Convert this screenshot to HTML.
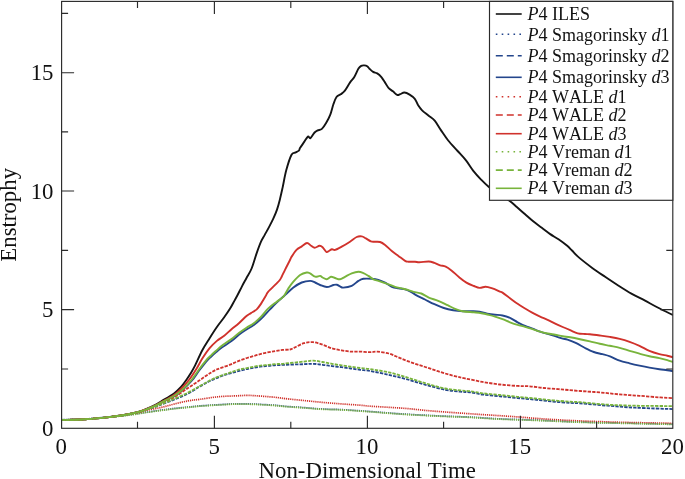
<!DOCTYPE html>
<html><head><meta charset="utf-8"><style>html,body{margin:0;padding:0;background:#fff;overflow:hidden;}svg{display:block;will-change:transform;}text{font-family:"Liberation Serif",serif;fill:#111;font-kerning:none;}</style></head><body>
<svg width="685" height="479" viewBox="0 0 685 479">
<defs><clipPath id="c"><rect x="61.6" y="1.4" width="611.2" height="426.9"/></clipPath></defs>
<g clip-path="url(#c)" fill="none" stroke-linejoin="round">
<path d="M61.60,419.90 C65.00,419.83 76.18,419.75 82.00,419.50 C87.82,419.25 91.67,418.83 96.50,418.40 C101.33,417.97 106.13,417.52 111.00,416.90 C115.87,416.28 120.82,415.62 125.70,414.70 C130.58,413.78 135.43,412.98 140.30,411.40 C145.17,409.82 151.45,406.85 154.90,405.20 C158.35,403.55 157.82,403.45 161.00,401.50 C164.18,399.55 170.67,395.92 174.00,393.50 C177.33,391.08 178.95,389.25 181.00,387.00 C183.05,384.75 184.73,382.20 186.30,380.00 C187.87,377.80 188.95,376.20 190.40,373.80 C191.85,371.40 193.02,369.53 195.00,365.60 C196.98,361.67 199.87,354.77 202.30,350.20 C204.73,345.63 207.17,342.07 209.60,338.20 C212.03,334.33 214.47,330.48 216.90,327.00 C219.33,323.52 222.00,320.37 224.20,317.30 C226.40,314.23 228.38,311.38 230.10,308.60 C231.82,305.82 233.23,302.90 234.50,300.60 C235.77,298.30 236.43,297.22 237.70,294.80 C238.97,292.38 240.63,288.90 242.10,286.10 C243.57,283.30 244.92,280.93 246.50,278.00 C248.08,275.07 249.92,272.60 251.60,268.50 C253.28,264.40 255.03,257.87 256.60,253.40 C258.17,248.93 259.67,244.75 261.00,241.70 C262.33,238.65 263.27,237.53 264.60,235.10 C265.93,232.67 267.53,229.88 269.00,227.10 C270.47,224.32 272.07,221.32 273.40,218.40 C274.73,215.48 275.92,212.77 277.00,209.60 C278.08,206.43 278.97,203.07 279.90,199.40 C280.83,195.73 281.53,192.48 282.60,187.60 C283.67,182.72 284.83,175.53 286.30,170.10 C287.77,164.67 289.93,157.92 291.40,155.00 C292.87,152.08 293.85,153.33 295.10,152.60 C296.35,151.87 298.08,151.35 298.90,150.60 C299.72,149.85 299.12,149.55 300.00,148.10 C300.88,146.65 302.88,143.82 304.20,141.90 C305.52,139.98 306.87,137.23 307.90,136.60 C308.93,135.97 309.28,138.78 310.40,138.10 C311.52,137.42 313.38,133.78 314.60,132.50 C315.82,131.22 316.48,131.00 317.70,130.40 C318.92,129.80 320.50,130.12 321.90,128.90 C323.30,127.68 324.70,125.47 326.10,123.10 C327.50,120.73 329.08,117.83 330.30,114.70 C331.52,111.57 332.37,107.25 333.40,104.30 C334.43,101.35 335.28,98.67 336.50,97.00 C337.72,95.33 339.30,95.35 340.70,94.30 C342.10,93.25 343.33,92.68 344.90,90.70 C346.47,88.72 348.53,84.67 350.10,82.40 C351.67,80.13 352.90,79.40 354.30,77.10 C355.70,74.80 357.35,70.48 358.50,68.60 C359.65,66.72 360.25,66.33 361.20,65.80 C362.15,65.27 363.20,65.33 364.20,65.40 C365.20,65.47 366.32,65.63 367.20,66.20 C368.08,66.77 368.52,67.85 369.50,68.80 C370.48,69.75 371.82,71.13 373.10,71.90 C374.38,72.67 375.82,72.53 377.20,73.40 C378.58,74.27 380.00,75.43 381.40,77.10 C382.80,78.77 384.38,81.55 385.60,83.40 C386.82,85.25 387.48,86.88 388.70,88.20 C389.92,89.52 391.50,90.18 392.90,91.30 C394.30,92.42 395.88,94.42 397.10,94.90 C398.32,95.38 398.98,94.60 400.20,94.20 C401.42,93.80 402.83,92.43 404.40,92.50 C405.97,92.57 407.87,93.55 409.60,94.60 C411.33,95.65 413.40,97.07 414.80,98.80 C416.20,100.53 416.78,103.08 418.00,105.00 C419.22,106.92 420.37,108.55 422.10,110.30 C423.83,112.05 426.30,113.77 428.40,115.50 C430.50,117.23 432.62,118.27 434.70,120.70 C436.78,123.13 438.65,126.80 440.90,130.10 C443.15,133.40 445.42,137.02 448.20,140.50 C450.98,143.98 454.63,147.68 457.60,151.00 C460.57,154.32 463.38,157.10 466.00,160.40 C468.62,163.70 470.75,167.57 473.30,170.80 C475.85,174.03 478.75,177.15 481.30,179.80 C483.85,182.45 485.65,184.33 488.60,186.70 C491.55,189.07 495.53,191.67 499.00,194.00 C502.47,196.33 506.43,198.53 509.40,200.70 C512.37,202.87 514.18,204.73 516.80,207.00 C519.42,209.27 522.32,211.87 525.10,214.30 C527.88,216.73 530.72,219.35 533.50,221.60 C536.28,223.85 539.02,225.72 541.80,227.80 C544.58,229.88 547.42,232.18 550.20,234.10 C552.98,236.02 555.72,237.38 558.50,239.30 C561.28,241.22 564.65,243.73 566.90,245.60 C569.15,247.47 570.02,248.53 572.00,250.50 C573.98,252.47 575.48,254.54 578.80,257.40 C582.12,260.26 587.52,264.42 591.90,267.65 C596.28,270.88 600.72,273.83 605.10,276.80 C609.48,279.77 613.82,282.70 618.20,285.50 C622.58,288.30 627.00,291.12 631.40,293.60 C635.80,296.08 640.22,298.08 644.60,300.40 C648.98,302.72 652.97,305.05 657.70,307.50 C662.43,309.95 670.45,313.83 673.00,315.10" stroke="#141414" stroke-width="1.90"/>
<path d="M61.60,419.60 C65.00,419.53 76.18,419.45 82.00,419.20 C87.82,418.95 91.67,418.53 96.50,418.10 C101.33,417.67 106.13,417.07 111.00,416.60 C115.87,416.13 120.82,415.87 125.70,415.30 C130.58,414.73 136.75,413.73 140.30,413.20 C143.85,412.67 143.55,412.60 147.00,412.10 C150.45,411.60 156.50,410.80 161.00,410.20 C165.50,409.60 169.50,409.02 174.00,408.50 C178.50,407.98 183.67,407.53 188.00,407.10 C192.33,406.67 194.87,406.30 200.00,405.90 C205.13,405.50 212.53,405.05 218.80,404.70 C225.07,404.35 231.33,403.88 237.60,403.80 C243.87,403.72 250.13,403.95 256.40,404.20 C262.67,404.45 270.43,404.95 275.20,405.30 C279.97,405.65 280.23,405.92 285.00,406.30 C289.77,406.68 297.53,407.14 303.80,407.60 C310.07,408.06 316.33,408.71 322.60,409.04 C328.87,409.37 333.50,409.19 341.40,409.60 C349.30,410.01 362.10,410.93 370.00,411.50 C377.90,412.07 382.53,412.53 388.80,413.00 C395.07,413.47 401.33,413.92 407.60,414.30 C413.87,414.68 420.13,414.98 426.40,415.30 C432.67,415.62 437.93,415.90 445.20,416.20 C452.47,416.50 460.87,416.65 470.00,417.10 C479.13,417.55 489.17,418.40 500.00,418.90 C510.83,419.40 521.67,419.58 535.00,420.10 C548.33,420.62 565.57,421.52 580.00,422.00 C594.43,422.48 606.10,422.65 621.60,423.00 C637.10,423.35 664.43,423.92 673.00,424.10" stroke="#24468c" stroke-width="1.70" stroke-dasharray="1.2 0.9"/>
<path d="M61.60,419.90 C65.00,419.83 76.18,419.75 82.00,419.50 C87.82,419.25 91.67,418.83 96.50,418.40 C101.33,417.97 106.13,417.52 111.00,416.90 C115.87,416.28 120.82,415.62 125.70,414.70 C130.58,413.78 135.43,412.68 140.30,411.40 C145.17,410.12 151.45,408.13 154.90,407.00 C158.35,405.87 157.82,405.83 161.00,404.60 C164.18,403.37 169.50,401.45 174.00,399.60 C178.50,397.75 183.67,395.70 188.00,393.50 C192.33,391.30 196.33,388.48 200.00,386.40 C203.67,384.32 206.37,382.73 210.00,381.00 C213.63,379.27 218.47,377.25 221.80,376.00 C225.13,374.75 225.80,374.67 230.00,373.50 C234.20,372.33 241.03,370.25 247.00,369.00 C252.97,367.75 259.47,366.70 265.80,366.00 C272.13,365.30 278.67,365.10 285.00,364.80 C291.33,364.50 299.10,364.37 303.80,364.20 C308.50,364.03 310.07,363.70 313.20,363.80 C316.33,363.90 319.47,364.42 322.60,364.80 C325.73,365.18 328.87,365.70 332.00,366.10 C335.13,366.50 338.27,366.80 341.40,367.20 C344.53,367.60 347.67,368.07 350.80,368.50 C353.93,368.93 357.00,369.38 360.20,369.80 C363.40,370.22 365.23,370.17 370.00,371.00 C374.77,371.83 382.53,373.38 388.80,374.80 C395.07,376.22 401.33,377.78 407.60,379.50 C413.87,381.22 420.13,383.38 426.40,385.10 C432.67,386.82 439.57,388.70 445.20,389.80 C450.83,390.90 456.07,391.28 460.20,391.70 C464.33,392.12 466.28,391.83 470.00,392.30 C473.72,392.77 477.50,393.83 482.50,394.50 C487.50,395.17 494.17,395.72 500.00,396.30 C505.83,396.88 511.67,397.43 517.50,398.00 C523.33,398.57 529.15,399.12 535.00,399.70 C540.85,400.28 546.75,400.97 552.60,401.50 C558.45,402.03 565.53,402.60 570.10,402.90 C574.67,403.20 573.73,402.83 580.00,403.30 C586.27,403.77 598.45,404.97 607.70,405.70 C616.95,406.43 624.62,407.13 635.50,407.70 C646.38,408.27 666.75,408.87 673.00,409.10" stroke="#24468c" stroke-width="1.80" stroke-dasharray="3.3 1.2"/>
<path d="M61.60,419.90 C65.00,419.83 76.18,419.75 82.00,419.50 C87.82,419.25 91.67,418.83 96.50,418.40 C101.33,417.97 106.13,417.52 111.00,416.90 C115.87,416.28 120.82,415.62 125.70,414.70 C130.58,413.78 135.43,412.88 140.30,411.40 C145.17,409.92 151.45,407.25 154.90,405.80 C158.35,404.35 157.82,404.25 161.00,402.70 C164.18,401.15 170.50,398.53 174.00,396.50 C177.50,394.47 179.00,393.17 182.00,390.50 C185.00,387.83 189.17,383.78 192.00,380.50 C194.83,377.22 196.67,373.92 199.00,370.80 C201.33,367.68 203.95,364.18 206.00,361.80 C208.05,359.42 209.55,358.17 211.30,356.50 C213.05,354.83 214.75,353.28 216.50,351.80 C218.25,350.32 219.30,349.40 221.80,347.60 C224.30,345.80 228.60,343.18 231.50,341.00 C234.40,338.82 236.70,336.42 239.20,334.50 C241.70,332.58 244.07,331.08 246.50,329.50 C248.93,327.92 251.37,326.78 253.80,325.00 C256.23,323.22 258.40,321.40 261.10,318.80 C263.80,316.20 267.40,312.10 270.00,309.40 C272.60,306.70 274.20,304.98 276.70,302.60 C279.20,300.22 282.22,297.62 285.00,295.10 C287.78,292.58 290.62,289.60 293.40,287.50 C296.18,285.40 298.92,283.60 301.70,282.50 C304.48,281.40 307.87,280.90 310.10,280.90 C312.33,280.90 313.43,281.82 315.10,282.50 C316.77,283.18 318.15,284.25 320.10,285.00 C322.05,285.75 324.57,287.00 326.80,287.00 C329.03,287.00 331.83,285.38 333.50,285.00 C335.17,284.62 335.72,284.47 336.80,284.70 C337.88,284.93 338.92,285.92 340.00,286.40 C341.08,286.88 341.35,287.68 343.30,287.60 C345.25,287.52 349.18,287.02 351.70,285.90 C354.22,284.78 356.45,282.08 358.40,280.90 C360.35,279.72 361.18,279.15 363.40,278.80 C365.62,278.45 369.20,278.63 371.70,278.80 C374.20,278.97 376.17,279.17 378.40,279.80 C380.63,280.43 382.87,281.43 385.10,282.60 C387.33,283.77 389.58,285.83 391.80,286.80 C394.02,287.77 396.18,287.98 398.40,288.40 C400.62,288.82 403.17,288.82 405.10,289.30 C407.03,289.78 408.25,290.38 410.00,291.30 C411.75,292.22 413.10,293.43 415.60,294.80 C418.10,296.17 421.87,297.93 425.00,299.50 C428.13,301.07 431.27,302.78 434.40,304.20 C437.53,305.62 440.67,307.00 443.80,308.00 C446.93,309.00 450.07,309.67 453.20,310.20 C456.33,310.73 459.47,311.03 462.60,311.20 C465.73,311.37 469.18,311.12 472.00,311.20 C474.82,311.28 476.68,311.23 479.50,311.70 C482.32,312.17 486.32,313.50 488.90,314.00 C491.48,314.50 492.73,314.45 495.00,314.70 C497.27,314.95 500.00,314.97 502.50,315.50 C505.00,316.03 507.48,316.77 510.00,317.90 C512.52,319.03 515.08,320.95 517.60,322.30 C520.12,323.65 522.60,324.95 525.10,326.00 C527.60,327.05 530.10,327.65 532.60,328.60 C535.10,329.55 537.60,330.82 540.10,331.70 C542.60,332.58 545.08,333.15 547.60,333.90 C550.12,334.65 552.68,335.42 555.20,336.20 C557.72,336.98 560.65,338.02 562.70,338.60 C564.75,339.18 565.23,338.93 567.50,339.70 C569.77,340.47 573.38,341.82 576.30,343.20 C579.22,344.58 582.08,346.53 585.00,348.00 C587.92,349.47 590.88,350.97 593.80,352.00 C596.72,353.03 599.80,353.47 602.50,354.20 C605.20,354.93 607.13,355.32 610.00,356.40 C612.87,357.48 616.43,359.55 619.70,360.70 C622.97,361.85 626.30,362.48 629.60,363.30 C632.90,364.12 636.20,364.88 639.50,365.60 C642.80,366.32 646.08,367.00 649.40,367.60 C652.72,368.20 656.42,368.77 659.40,369.20 C662.38,369.63 665.03,369.87 667.30,370.20 C669.57,370.53 672.05,371.03 673.00,371.20" stroke="#24468c" stroke-width="1.90"/>
<path d="M61.60,419.90 C65.00,419.83 76.18,419.75 82.00,419.50 C87.82,419.25 91.67,418.83 96.50,418.40 C101.33,417.97 106.13,417.52 111.00,416.90 C115.87,416.28 120.82,415.45 125.70,414.70 C130.58,413.95 136.75,413.15 140.30,412.40 C143.85,411.65 143.55,411.02 147.00,410.20 C150.45,409.38 156.50,408.52 161.00,407.50 C165.50,406.48 169.50,405.20 174.00,404.10 C178.50,403.00 183.67,401.70 188.00,400.90 C192.33,400.10 194.87,400.00 200.00,399.30 C205.13,398.60 212.53,397.28 218.80,396.70 C225.07,396.12 232.90,396.02 237.60,395.80 C242.30,395.58 243.87,395.40 247.00,395.40 C250.13,395.40 251.70,395.48 256.40,395.80 C261.10,396.12 270.43,396.83 275.20,397.30 C279.97,397.77 280.23,398.07 285.00,398.60 C289.77,399.13 297.53,399.87 303.80,400.50 C310.07,401.13 316.33,401.83 322.60,402.40 C328.87,402.97 335.13,403.43 341.40,403.90 C347.67,404.37 355.43,404.82 360.20,405.20 C364.97,405.58 365.23,405.85 370.00,406.20 C374.77,406.55 382.53,406.90 388.80,407.30 C395.07,407.70 401.33,408.07 407.60,408.60 C413.87,409.13 420.13,409.93 426.40,410.50 C432.67,411.07 438.77,411.52 445.20,412.00 C451.63,412.48 458.78,412.97 465.00,413.40 C471.22,413.83 476.67,414.22 482.50,414.60 C488.33,414.98 494.17,415.32 500.00,415.70 C505.83,416.08 511.67,416.47 517.50,416.90 C523.33,417.33 529.15,417.87 535.00,418.30 C540.85,418.73 545.10,419.07 552.60,419.50 C560.10,419.93 568.50,420.43 580.00,420.90 C591.50,421.37 606.10,421.90 621.60,422.30 C637.10,422.70 664.43,423.13 673.00,423.30" stroke="#d0322c" stroke-width="1.70" stroke-dasharray="1.2 0.9"/>
<path d="M61.60,419.90 C65.00,419.83 76.18,419.75 82.00,419.50 C87.82,419.25 91.67,418.83 96.50,418.40 C101.33,417.97 106.13,417.52 111.00,416.90 C115.87,416.28 120.82,415.62 125.70,414.70 C130.58,413.78 135.43,412.82 140.30,411.40 C145.17,409.98 151.45,407.52 154.90,406.20 C158.35,404.88 157.82,404.98 161.00,403.50 C164.18,402.02 169.50,399.88 174.00,397.30 C178.50,394.72 183.87,390.74 188.00,388.00 C192.13,385.26 195.78,382.89 198.80,380.84 C201.82,378.79 204.02,377.11 206.10,375.70 C208.18,374.29 209.57,373.43 211.30,372.40 C213.03,371.37 214.75,370.28 216.50,369.50 C218.25,368.72 219.55,368.50 221.80,367.70 C224.05,366.90 227.37,365.75 230.00,364.70 C232.63,363.65 234.77,362.52 237.60,361.40 C240.43,360.28 243.87,359.03 247.00,358.00 C250.13,356.97 253.27,356.07 256.40,355.20 C259.53,354.33 262.67,353.48 265.80,352.80 C268.93,352.12 272.38,351.58 275.20,351.10 C278.02,350.62 280.23,350.17 282.70,349.90 C285.17,349.63 288.05,349.87 290.00,349.50 C291.95,349.13 292.10,348.74 294.40,347.69 C296.70,346.64 300.67,344.12 303.80,343.20 C306.93,342.28 310.07,341.95 313.20,342.20 C316.33,342.45 319.47,343.67 322.60,344.70 C325.73,345.73 328.87,347.47 332.00,348.40 C335.13,349.33 338.27,349.77 341.40,350.30 C344.53,350.83 347.67,351.38 350.80,351.60 C353.93,351.82 357.00,351.50 360.20,351.60 C363.40,351.70 367.12,352.18 370.00,352.20 C372.88,352.22 374.37,351.48 377.50,351.70 C380.63,351.92 385.35,352.57 388.80,353.50 C392.25,354.43 395.07,356.03 398.20,357.30 C401.33,358.57 404.47,359.92 407.60,361.10 C410.73,362.28 413.87,363.37 417.00,364.40 C420.13,365.43 423.27,366.28 426.40,367.30 C429.53,368.32 432.67,369.47 435.80,370.50 C438.93,371.53 442.07,372.57 445.20,373.50 C448.33,374.43 451.30,375.28 454.60,376.10 C457.90,376.92 460.35,377.43 465.00,378.40 C469.65,379.37 476.67,380.88 482.50,381.90 C488.33,382.92 494.17,383.83 500.00,384.50 C505.83,385.17 512.53,385.60 517.50,385.90 C522.47,386.20 525.42,385.95 529.80,386.30 C534.18,386.65 538.55,387.48 543.80,388.00 C549.05,388.52 555.27,388.90 561.30,389.40 C567.33,389.90 573.58,390.50 580.00,391.00 C586.42,391.50 593.18,391.83 599.80,392.40 C606.42,392.97 613.08,393.83 619.70,394.40 C626.32,394.97 632.88,395.30 639.50,395.80 C646.12,396.30 653.82,397.00 659.40,397.40 C664.98,397.80 670.73,398.07 673.00,398.20" stroke="#d0322c" stroke-width="1.80" stroke-dasharray="3.3 1.2"/>
<path d="M61.60,419.90 C65.00,419.83 76.18,419.75 82.00,419.50 C87.82,419.25 91.67,418.83 96.50,418.40 C101.33,417.97 106.13,417.52 111.00,416.90 C115.87,416.28 120.82,415.62 125.70,414.70 C130.58,413.78 135.43,412.92 140.30,411.40 C145.17,409.88 151.45,407.12 154.90,405.60 C158.35,404.08 157.82,404.07 161.00,402.30 C164.18,400.53 170.67,397.22 174.00,395.00 C177.33,392.78 178.52,391.50 181.00,389.00 C183.48,386.50 186.32,383.38 188.90,380.00 C191.48,376.62 194.27,372.28 196.50,368.70 C198.73,365.12 200.12,361.92 202.30,358.50 C204.48,355.08 207.17,351.13 209.60,348.20 C212.03,345.27 214.47,342.97 216.90,340.90 C219.33,338.83 221.77,337.75 224.20,335.80 C226.63,333.85 229.05,331.30 231.50,329.20 C233.95,327.10 236.40,325.40 238.90,323.20 C241.40,321.00 244.50,317.68 246.50,316.00 C248.50,314.32 249.20,314.20 250.90,313.10 C252.60,312.00 255.00,310.98 256.70,309.40 C258.40,307.82 259.63,305.78 261.10,303.60 C262.57,301.42 264.30,298.28 265.50,296.30 C266.70,294.32 266.43,293.85 268.30,291.70 C270.17,289.55 274.78,285.35 276.70,283.40 C278.62,281.45 278.97,281.12 279.80,280.00 C280.63,278.88 280.83,278.40 281.70,276.70 C282.57,275.00 283.62,272.58 285.00,269.80 C286.38,267.02 288.95,262.10 290.00,260.00 C291.05,257.90 290.22,258.88 291.30,257.20 C292.38,255.52 294.75,251.70 296.50,249.90 C298.25,248.10 300.05,247.55 301.80,246.40 C303.55,245.25 305.45,243.10 307.00,243.00 C308.55,242.90 309.82,245.00 311.10,245.80 C312.38,246.60 313.30,247.80 314.70,247.80 C316.10,247.80 318.18,245.90 319.50,245.80 C320.82,245.70 321.45,246.17 322.60,247.20 C323.75,248.23 325.35,251.37 326.40,252.00 C327.45,252.63 327.97,251.45 328.90,251.00 C329.83,250.55 330.95,249.48 332.00,249.30 C333.05,249.12 333.58,250.33 335.20,249.90 C336.82,249.47 339.23,248.07 341.70,246.70 C344.17,245.33 347.50,243.32 350.00,241.70 C352.50,240.08 354.75,237.88 356.70,237.00 C358.65,236.12 360.17,236.17 361.70,236.40 C363.23,236.63 364.37,237.57 365.90,238.40 C367.43,239.23 369.37,240.85 370.90,241.40 C372.43,241.95 373.57,241.60 375.10,241.70 C376.63,241.80 378.43,241.45 380.10,242.00 C381.77,242.55 383.15,243.52 385.10,245.00 C387.05,246.48 389.58,249.08 391.80,250.90 C394.02,252.72 396.18,254.23 398.40,255.90 C400.62,257.57 403.42,259.93 405.10,260.90 C406.78,261.87 406.85,261.57 408.50,261.70 C410.15,261.83 413.18,261.60 415.00,261.70 C416.82,261.80 417.10,262.33 419.40,262.30 C421.70,262.27 426.30,261.40 428.80,261.50 C431.30,261.60 432.52,262.27 434.40,262.90 C436.28,263.53 438.22,264.68 440.10,265.30 C441.98,265.92 443.82,265.75 445.70,266.60 C447.58,267.45 449.20,268.67 451.40,270.40 C453.60,272.13 456.40,274.97 458.90,277.00 C461.40,279.03 463.90,281.10 466.40,282.60 C468.90,284.10 471.72,285.12 473.90,286.00 C476.08,286.88 477.62,287.78 479.50,287.90 C481.38,288.02 483.63,286.80 485.20,286.70 C486.77,286.60 487.33,286.88 488.90,287.30 C490.47,287.72 492.75,288.48 494.60,289.20 C496.45,289.92 498.68,291.03 500.00,291.60 C501.32,292.17 500.83,291.50 502.50,292.60 C504.17,293.70 507.48,296.33 510.00,298.20 C512.52,300.07 515.08,302.08 517.60,303.80 C520.12,305.52 522.60,306.98 525.10,308.50 C527.60,310.02 530.10,311.55 532.60,312.90 C535.10,314.25 537.60,315.45 540.10,316.60 C542.60,317.75 545.08,318.63 547.60,319.80 C550.12,320.97 552.68,322.40 555.20,323.60 C557.72,324.80 560.20,325.90 562.70,327.00 C565.20,328.10 567.70,329.15 570.20,330.20 C572.70,331.25 575.23,332.67 577.70,333.30 C580.17,333.93 582.97,333.83 585.00,334.00 C587.03,334.17 587.43,334.05 589.90,334.30 C592.37,334.55 596.48,335.07 599.80,335.50 C603.12,335.93 606.48,336.35 609.80,336.90 C613.12,337.45 616.40,337.98 619.70,338.80 C623.00,339.62 626.30,340.63 629.60,341.80 C632.90,342.97 636.20,344.30 639.50,345.80 C642.80,347.30 646.08,349.42 649.40,350.80 C652.72,352.18 656.42,353.28 659.40,354.10 C662.38,354.92 665.03,355.17 667.30,355.70 C669.57,356.23 672.05,357.03 673.00,357.30" stroke="#d0322c" stroke-width="1.90"/>
<path d="M61.60,419.90 C65.00,419.83 76.18,419.75 82.00,419.50 C87.82,419.25 91.67,418.83 96.50,418.40 C101.33,417.97 106.13,417.37 111.00,416.90 C115.87,416.43 120.82,416.17 125.70,415.60 C130.58,415.03 136.75,414.03 140.30,413.50 C143.85,412.97 143.55,412.90 147.00,412.40 C150.45,411.90 156.50,411.10 161.00,410.50 C165.50,409.90 169.50,409.32 174.00,408.80 C178.50,408.28 183.67,407.83 188.00,407.40 C192.33,406.97 194.87,406.60 200.00,406.20 C205.13,405.80 212.53,405.35 218.80,405.00 C225.07,404.65 231.33,404.18 237.60,404.10 C243.87,404.02 250.13,404.25 256.40,404.50 C262.67,404.75 270.43,405.25 275.20,405.60 C279.97,405.95 280.23,406.22 285.00,406.60 C289.77,406.98 297.53,407.44 303.80,407.90 C310.07,408.36 316.33,409.01 322.60,409.34 C328.87,409.67 333.50,409.49 341.40,409.90 C349.30,410.31 362.10,411.23 370.00,411.80 C377.90,412.37 382.53,412.83 388.80,413.30 C395.07,413.77 401.33,414.22 407.60,414.60 C413.87,414.98 420.13,415.28 426.40,415.60 C432.67,415.92 437.93,416.20 445.20,416.50 C452.47,416.80 460.87,416.95 470.00,417.40 C479.13,417.85 489.17,418.70 500.00,419.20 C510.83,419.70 521.67,419.88 535.00,420.40 C548.33,420.92 565.57,421.82 580.00,422.30 C594.43,422.78 606.10,422.95 621.60,423.30 C637.10,423.65 664.43,424.22 673.00,424.40" stroke="#78b43c" stroke-width="1.70" stroke-dasharray="1.2 0.9"/>
<path d="M61.60,419.90 C65.00,419.83 76.18,419.75 82.00,419.50 C87.82,419.25 91.67,418.83 96.50,418.40 C101.33,417.97 106.13,417.52 111.00,416.90 C115.87,416.28 120.82,415.62 125.70,414.70 C130.58,413.78 135.43,412.72 140.30,411.40 C145.17,410.08 151.45,407.98 154.90,406.80 C158.35,405.62 157.82,405.60 161.00,404.30 C164.18,403.00 169.50,400.95 174.00,399.00 C178.50,397.05 183.67,394.76 188.00,392.60 C192.33,390.44 196.43,388.05 200.00,386.06 C203.57,384.08 206.65,382.14 209.40,380.70 C212.15,379.26 214.43,378.30 216.50,377.40 C218.57,376.50 219.55,376.08 221.80,375.30 C224.05,374.52 227.37,373.58 230.00,372.70 C232.63,371.82 234.77,370.77 237.60,370.00 C240.43,369.23 243.87,368.73 247.00,368.10 C250.13,367.47 253.27,366.70 256.40,366.20 C259.53,365.70 262.67,365.43 265.80,365.10 C268.93,364.77 272.00,364.47 275.20,364.20 C278.40,363.93 280.23,363.93 285.00,363.50 C289.77,363.07 299.10,362.08 303.80,361.60 C308.50,361.12 310.07,360.53 313.20,360.60 C316.33,360.67 319.47,361.47 322.60,362.00 C325.73,362.53 328.87,363.25 332.00,363.80 C335.13,364.35 338.27,364.82 341.40,365.30 C344.53,365.78 347.67,366.25 350.80,366.70 C353.93,367.15 357.00,367.60 360.20,368.00 C363.40,368.40 365.23,368.38 370.00,369.10 C374.77,369.82 382.53,370.88 388.80,372.30 C395.07,373.72 401.33,375.72 407.60,377.60 C413.87,379.48 420.13,381.78 426.40,383.60 C432.67,385.42 439.57,387.37 445.20,388.50 C450.83,389.63 456.07,389.95 460.20,390.40 C464.33,390.85 466.28,390.72 470.00,391.20 C473.72,391.68 477.50,392.67 482.50,393.30 C487.50,393.93 494.17,394.42 500.00,395.00 C505.83,395.58 511.67,396.22 517.50,396.80 C523.33,397.38 529.15,397.92 535.00,398.50 C540.85,399.08 546.75,399.77 552.60,400.30 C558.45,400.83 565.53,401.38 570.10,401.70 C574.67,402.02 573.73,401.70 580.00,402.20 C586.27,402.70 598.45,404.12 607.70,404.70 C616.95,405.28 624.62,405.47 635.50,405.70 C646.38,405.93 666.75,406.03 673.00,406.10" stroke="#78b43c" stroke-width="1.80" stroke-dasharray="3.3 1.2"/>
<path d="M61.60,419.90 C65.00,419.83 76.18,419.75 82.00,419.50 C87.82,419.25 91.67,418.83 96.50,418.40 C101.33,417.97 106.13,417.52 111.00,416.90 C115.87,416.28 120.82,415.62 125.70,414.70 C130.58,413.78 135.43,412.88 140.30,411.40 C145.17,409.92 151.45,407.27 154.90,405.80 C158.35,404.33 157.82,404.23 161.00,402.60 C164.18,400.97 170.50,398.10 174.00,396.00 C177.50,393.90 179.08,392.67 182.00,390.00 C184.92,387.33 188.70,383.38 191.50,380.00 C194.30,376.62 196.37,372.98 198.80,369.70 C201.23,366.42 204.02,362.73 206.10,360.30 C208.18,357.87 209.57,356.75 211.30,355.10 C213.03,353.45 214.75,351.95 216.50,350.40 C218.25,348.85 219.30,347.72 221.80,345.80 C224.30,343.88 228.60,341.07 231.50,338.90 C234.40,336.73 236.70,334.67 239.20,332.80 C241.70,330.93 244.07,329.28 246.50,327.70 C248.93,326.12 251.37,325.13 253.80,323.30 C256.23,321.47 258.68,319.18 261.10,316.70 C263.52,314.22 265.70,310.90 268.30,308.40 C270.90,305.90 274.18,303.65 276.70,301.70 C279.22,299.75 281.45,298.92 283.40,296.70 C285.35,294.48 286.73,290.90 288.40,288.40 C290.07,285.90 291.45,283.93 293.40,281.70 C295.35,279.47 297.88,276.53 300.10,275.00 C302.32,273.47 305.03,272.77 306.70,272.50 C308.37,272.23 308.70,272.70 310.10,273.40 C311.50,274.10 313.43,276.28 315.10,276.70 C316.77,277.12 318.85,275.77 320.10,275.90 C321.35,276.03 321.48,276.95 322.60,277.50 C323.72,278.05 325.40,279.33 326.80,279.20 C328.20,279.07 329.62,276.90 331.00,276.70 C332.38,276.50 333.60,277.57 335.10,278.00 C336.60,278.43 338.35,279.50 340.00,279.30 C341.65,279.10 343.05,277.78 345.00,276.80 C346.95,275.82 349.47,274.23 351.70,273.40 C353.93,272.57 356.45,271.85 358.40,271.80 C360.35,271.75 361.73,272.42 363.40,273.10 C365.07,273.78 366.73,274.87 368.40,275.90 C370.07,276.93 371.73,278.47 373.40,279.30 C375.07,280.13 376.73,280.35 378.40,280.90 C380.07,281.45 381.73,282.03 383.40,282.60 C385.07,283.17 386.45,283.60 388.40,284.30 C390.35,285.00 392.87,286.12 395.10,286.80 C397.33,287.48 399.57,287.85 401.80,288.40 C404.03,288.95 406.30,289.48 408.50,290.10 C410.70,290.72 412.87,291.53 415.00,292.10 C417.13,292.67 419.00,292.58 421.30,293.50 C423.60,294.42 425.98,296.38 428.80,297.60 C431.62,298.82 435.07,299.53 438.20,300.80 C441.33,302.07 444.78,303.85 447.60,305.20 C450.42,306.55 452.60,307.90 455.10,308.90 C457.60,309.90 459.47,310.63 462.60,311.20 C465.73,311.77 470.77,311.97 473.90,312.30 C477.03,312.63 478.90,312.77 481.40,313.20 C483.90,313.63 486.63,314.33 488.90,314.90 C491.17,315.47 492.73,315.88 495.00,316.60 C497.27,317.32 500.00,318.25 502.50,319.20 C505.00,320.15 507.48,321.35 510.00,322.30 C512.52,323.25 515.08,324.15 517.60,324.90 C520.12,325.65 522.60,326.08 525.10,326.80 C527.60,327.52 530.10,328.38 532.60,329.20 C535.10,330.02 537.60,330.98 540.10,331.70 C542.60,332.42 545.08,332.98 547.60,333.50 C550.12,334.02 552.68,334.35 555.20,334.80 C557.72,335.25 560.20,335.78 562.70,336.20 C565.20,336.62 567.32,336.80 570.20,337.30 C573.08,337.80 576.72,338.52 580.00,339.20 C583.28,339.88 586.60,340.63 589.90,341.40 C593.20,342.17 596.48,343.07 599.80,343.80 C603.12,344.53 606.48,345.13 609.80,345.80 C613.12,346.47 616.40,346.97 619.70,347.80 C623.00,348.63 626.30,349.82 629.60,350.80 C632.90,351.78 636.20,352.78 639.50,353.70 C642.80,354.62 646.08,355.57 649.40,356.30 C652.72,357.03 656.42,357.47 659.40,358.10 C662.38,358.73 665.03,359.43 667.30,360.10 C669.57,360.77 672.05,361.77 673.00,362.10" stroke="#78b43c" stroke-width="1.90"/>
</g>
<rect x="61.6" y="1.4" width="611.2" height="426.9" fill="none" stroke="#2a2a2a" stroke-width="1.15"/>
<path d="M137.50,428.30 V421.80 M137.50,1.40 V7.90 M214.40,428.30 V415.80 M214.40,1.40 V13.90 M290.80,428.30 V421.80 M290.80,1.40 V7.90 M367.40,428.30 V415.80 M367.40,1.40 V13.90 M443.60,428.30 V421.80 M443.60,1.40 V7.90 M520.40,428.30 V415.80 M520.40,1.40 V13.90 M596.60,428.30 V421.80 M596.60,1.40 V7.90 M61.60,369.00 H68.10 M672.80,369.00 H666.30 M61.60,309.60 H74.10 M672.80,309.60 H660.30 M61.60,250.30 H68.10 M672.80,250.30 H666.30 M61.60,191.00 H74.10 M672.80,191.00 H660.30 M61.60,131.80 H68.10 M672.80,131.80 H666.30 M61.60,72.70 H74.10 M672.80,72.70 H660.30 M61.60,13.30 H68.10 M672.80,13.30 H666.30" stroke="#2a2a2a" stroke-width="1.15" fill="none"/>
<rect x="489.5" y="1.4" width="183.3" height="198.9" fill="#fff" stroke="#2a2a2a" stroke-width="1.15"/>
<text x="61.30" y="453.6" font-size="22.8" text-anchor="middle">0</text>
<text x="214.10" y="453.6" font-size="22.8" text-anchor="middle">5</text>
<text x="366.90" y="453.6" font-size="22.8" text-anchor="middle">10</text>
<text x="519.70" y="453.6" font-size="22.8" text-anchor="middle">15</text>
<text x="672.50" y="453.6" font-size="22.8" text-anchor="middle">20</text>
<text x="53.5" y="436.00" font-size="22.8" text-anchor="end">0</text>
<text x="53.5" y="317.42" font-size="22.8" text-anchor="end">5</text>
<text x="53.5" y="198.83" font-size="22.8" text-anchor="end">10</text>
<text x="53.5" y="80.25" font-size="22.8" text-anchor="end">15</text>
<text x="367.2" y="477.8" font-size="22.8" text-anchor="middle">Non-Dimensional Time</text>
<text transform="translate(16.4,214.8) rotate(-90)" font-size="22.8" text-anchor="middle">Enstrophy</text>
<path d="M495.8,14.0 H521.7" stroke="#141414" stroke-width="1.6"/>
<text x="527.6" y="20.3" font-size="18.0"><tspan font-style="italic">P</tspan>4 ILES</text>
<path d="M495.8,34.2 H521.7" stroke="#24468c" stroke-width="1.6" stroke-dasharray="1.6 4.3"/>
<text x="527.6" y="40.7" font-size="18.0"><tspan font-style="italic">P</tspan>4 Smagorinsky <tspan font-style="italic">d</tspan>1</text>
<path d="M495.8,55.7 H521.7" stroke="#24468c" stroke-width="1.6" stroke-dasharray="7 4"/>
<text x="527.6" y="62.2" font-size="18.0"><tspan font-style="italic">P</tspan>4 Smagorinsky <tspan font-style="italic">d</tspan>2</text>
<path d="M495.8,77.3 H521.7" stroke="#24468c" stroke-width="1.6"/>
<text x="527.6" y="83.1" font-size="18.0"><tspan font-style="italic">P</tspan>4 Smagorinsky <tspan font-style="italic">d</tspan>3</text>
<path d="M495.8,96.8 H521.7" stroke="#d0322c" stroke-width="1.6" stroke-dasharray="1.6 4.3"/>
<text x="527.6" y="103.0" font-size="18.0"><tspan font-style="italic">P</tspan>4 WALE <tspan font-style="italic">d</tspan>1</text>
<path d="M495.8,115.0 H521.7" stroke="#d0322c" stroke-width="1.6" stroke-dasharray="7 4"/>
<text x="527.6" y="121.0" font-size="18.0"><tspan font-style="italic">P</tspan>4 WALE <tspan font-style="italic">d</tspan>2</text>
<path d="M495.8,133.7 H521.7" stroke="#d0322c" stroke-width="1.6"/>
<text x="527.6" y="139.5" font-size="18.0"><tspan font-style="italic">P</tspan>4 WALE <tspan font-style="italic">d</tspan>3</text>
<path d="M495.8,151.8 H521.7" stroke="#78b43c" stroke-width="1.6" stroke-dasharray="1.6 4.3"/>
<text x="527.6" y="157.5" font-size="18.0"><tspan font-style="italic">P</tspan>4 Vreman <tspan font-style="italic">d</tspan>1</text>
<path d="M495.8,170.1 H521.7" stroke="#78b43c" stroke-width="1.6" stroke-dasharray="7 4"/>
<text x="527.6" y="175.8" font-size="18.0"><tspan font-style="italic">P</tspan>4 Vreman <tspan font-style="italic">d</tspan>2</text>
<path d="M495.8,188.3 H521.7" stroke="#78b43c" stroke-width="1.6"/>
<text x="527.6" y="194.2" font-size="18.0"><tspan font-style="italic">P</tspan>4 Vreman <tspan font-style="italic">d</tspan>3</text>
</svg></body></html>
